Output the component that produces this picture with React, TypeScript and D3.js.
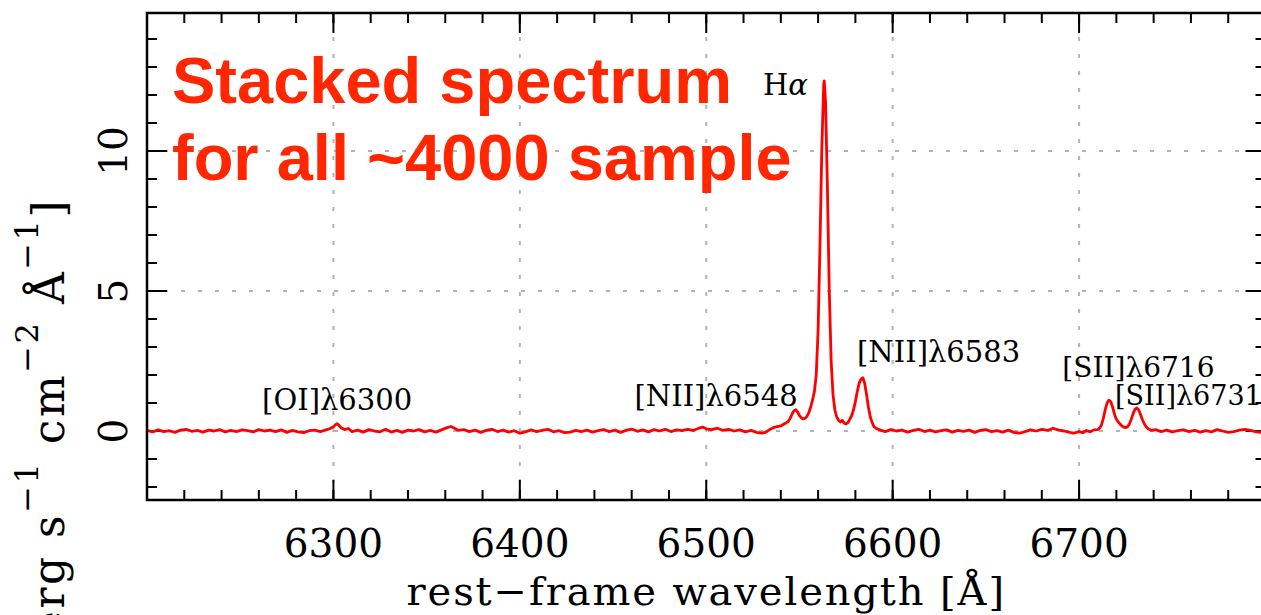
import React from "react";
import * as d3 from "d3";

// ---- data (rest-frame wavelength [Å], flux) ----
const spectrumBlue: [number, number][] = [
  [6200, 0.02], [6203, -0.03], [6206, 0.04], [6209, -0.02], [6212, 0.01], [6215, -0.05], [6218, 0.03],
  [6221, 0.06], [6224, -0.01], [6227, 0.02], [6230, -0.04], [6233, 0.03], [6236, 0.0], [6239, 0.05],
  [6242, -0.03], [6245, 0.02], [6248, -0.02], [6251, 0.04], [6254, 0.01], [6257, -0.03], [6260, 0.05],
  [6263, 0.0], [6266, 0.03], [6269, -0.02], [6272, 0.04], [6275, -0.05], [6278, 0.02], [6281, -0.03],
  [6284, -0.06], [6287, 0.01], [6290, 0.03], [6293, -0.02], [6296, 0.04], [6298, 0.08], [6300, 0.15],
  [6301, 0.22], [6302, 0.26], [6303, 0.2], [6304, 0.12], [6306, 0.05], [6308, 0.09], [6310, -0.02],
  [6313, 0.03], [6316, -0.04], [6319, 0.05], [6322, 0.0], [6325, -0.03], [6328, 0.06], [6331, -0.04],
  [6334, 0.02], [6337, -0.05], [6340, 0.03], [6343, 0.0], [6346, 0.05], [6349, -0.03], [6352, 0.02],
  [6355, -0.04], [6358, 0.04], [6361, 0.12], [6363, 0.16], [6365, 0.1], [6367, 0.02], [6370, 0.05],
  [6373, -0.02], [6376, 0.03], [6379, -0.05], [6382, 0.02], [6385, 0.06], [6388, -0.02], [6391, 0.03],
  [6394, -0.04], [6397, 0.01], [6400, -0.08], [6403, -0.03], [6406, 0.04], [6409, -0.02], [6412, 0.02],
  [6415, 0.06], [6418, -0.03], [6421, 0.01], [6424, -0.06], [6427, -0.04], [6430, 0.02], [6433, -0.02],
  [6436, 0.03], [6439, -0.04], [6442, 0.01], [6445, 0.05], [6448, -0.02], [6451, 0.03], [6454, -0.05],
  [6457, 0.02], [6460, 0.07], [6463, -0.01], [6466, 0.04], [6469, -0.03], [6472, 0.05], [6475, 0.0],
  [6478, 0.06], [6481, -0.02], [6484, 0.04], [6487, 0.01], [6490, 0.06], [6493, 0.02], [6496, 0.1],
  [6498, 0.14], [6500, 0.08], [6503, 0.05], [6506, 0.1], [6509, 0.02], [6512, 0.06], [6515, 0.0],
  [6518, 0.04], [6521, -0.03], [6524, 0.02], [6527, -0.05], [6530, -0.08], [6532, -0.04],
];

const spectrumHalpha: [number, number][] = [
  [6534, 0.05], [6536, 0.12], [6538, 0.16], [6540, 0.18], [6542, 0.26], [6543, 0.3], [6544, 0.34],
  [6545, 0.45], [6546, 0.6], [6547, 0.72], [6548, 0.76], [6549, 0.68], [6550, 0.55], [6551, 0.47],
  [6552, 0.43], [6553, 0.45], [6554, 0.52], [6555, 0.65], [6556, 0.85], [6557, 1.1], [6558, 1.4],
  [6559, 2.0], [6560, 3.6], [6561, 6.6], [6562, 10.1], [6563, 12.36], [6563.3, 12.5], [6564, 11.76],
  [6565, 8.7], [6566, 5.0], [6567, 2.5], [6568, 1.3], [6569, 0.75], [6570, 0.5], [6571, 0.38],
  [6572, 0.32], [6573, 0.38], [6574, 0.28], [6575, 0.25], [6576, 0.3], [6577, 0.42], [6578, 0.55],
  [6579, 0.75], [6580, 1.05], [6581, 1.4], [6582, 1.7], [6583, 1.85], [6584, 1.9], [6585, 1.7],
  [6586, 1.3], [6587, 0.85], [6588, 0.5], [6589, 0.3], [6590, 0.15], [6591, 0.1],
];

const spectrumRed: [number, number][] = [
  [6593, 0.04], [6596, -0.02], [6599, 0.05], [6602, 0.0], [6605, 0.03], [6608, -0.04], [6611, 0.02],
  [6614, 0.06], [6617, -0.02], [6620, 0.03], [6623, -0.03], [6626, 0.01], [6629, 0.04], [6632, -0.04],
  [6635, 0.02], [6638, -0.01], [6641, 0.03], [6644, -0.05], [6647, 0.02], [6650, 0.05], [6653, -0.02],
  [6656, 0.01], [6659, -0.04], [6662, 0.03], [6665, -0.05], [6668, -0.08], [6671, -0.02], [6674, 0.04],
  [6677, 0.0], [6680, 0.06], [6683, 0.02], [6686, 0.1], [6689, 0.03], [6692, 0.0], [6695, -0.05],
  [6697, -0.08], [6700, -0.02], [6702, -0.06], [6704, 0.02], [6706, -0.03], [6708, 0.04],
];

const spectrumSII: [number, number][] = [
  [6710, 0.05], [6711, 0.1], [6712, 0.22], [6713, 0.45], [6714, 0.75], [6715, 1.0], [6716, 1.1],
  [6717, 1.05], [6718, 0.85], [6719, 0.6], [6720, 0.42], [6721, 0.32], [6722, 0.25], [6723, 0.18],
  [6724, 0.14], [6725, 0.12], [6726, 0.15], [6727, 0.25], [6728, 0.42], [6729, 0.62], [6730, 0.78],
  [6731, 0.82], [6732, 0.75], [6733, 0.58], [6734, 0.4], [6735, 0.25], [6736, 0.15], [6737, 0.08],
  [6739, 0.02], [6741, 0.05], [6744, -0.02], [6747, 0.03], [6750, -0.03], [6753, 0.01], [6756, 0.04],
  [6759, -0.02], [6762, 0.02], [6765, -0.04], [6768, 0.01], [6771, -0.03], [6774, 0.05], [6777, 0.0],
  [6780, -0.05], [6783, -0.02], [6786, 0.03], [6789, 0.06], [6792, 0.02], [6795, -0.03], [6798, -0.05],
  [6800, -0.02],
];

const xTickLabels = [6300, 6400, 6500, 6600, 6700];
const yTickLabels = [0, 5, 10];

const lineLabels = [
  { text: "[OI]λ6300", wl: 6302, flux: 0.75, anchor: "middle", size: 29 },
  { text: "[NII]λ6548", wl: 6549, flux: 0.9, anchor: "end", size: 29 },
  { text: "[NII]λ6583", wl: 6580.9, flux: 2.47, anchor: "start", size: 29 },
  { text: "[SII]λ6716", wl: 6691, flux: 1.93, anchor: "start", size: 28 },
  { text: "[SII]λ6731", wl: 6719.3, flux: 0.93, anchor: "start", size: 27 },
];

const W = 1261;
const H = 615;
const left = 147;
const right = 1265.5;
const zeroY = 431;
const pxPerUnit = 28;
const top = 13;
const bottom = 500;

export default function App() {
  const x = d3.scaleLinear().domain([6200, 6800]).range([left, right]);
  const y = d3
    .scaleLinear()
    .domain([(zeroY - bottom) / pxPerUnit, (zeroY - top) / pxPerUnit])
    .range([bottom, top]);

  const data = [...spectrumBlue, ...spectrumHalpha, ...spectrumRed, ...spectrumSII];
  const line = d3
    .line<[number, number]>()
    .x((d) => x(d[0]))
    .y((d) => y(d[1]));

  const xMinor = d3.range(6200, 6801, 20);
  const xMajor = d3.range(6200, 6801, 100);
  const yMinor = d3.range(-2, 15, 1);
  const yMajor = d3.range(0, 15, 5);

  const serif = "'DejaVu Serif', serif";
  const grid = "#b3b3b3";

  return (
    <svg
      width={W}
      height={H}
      style={{ position: "absolute", left: 0, top: 0, background: "#fff" }}
      xmlns="http://www.w3.org/2000/svg"
    >
      <rect x={0} y={0} width={W} height={H} fill="#fff" />
      {/* grid */}
      <g stroke={grid} strokeWidth={2} strokeDasharray="4 13">
        {xTickLabels.map((t) => (
          <line key={"gx" + t} x1={x(t)} x2={x(t)} y1={bottom} y2={top} />
        ))}
        {yTickLabels.map((t) => (
          <line key={"gy" + t} x1={left} x2={right} y1={y(t)} y2={y(t)} />
        ))}
      </g>

      {/* ticks */}
      <g stroke="#000" strokeWidth={2}>
        {xMinor.map((t) => (
          <g key={"xm" + t}>
            <line x1={x(t)} x2={x(t)} y1={bottom} y2={bottom - 10} />
            <line x1={x(t)} x2={x(t)} y1={top} y2={top + 10} />
          </g>
        ))}
        {xMajor.map((t) => (
          <g key={"xM" + t}>
            <line x1={x(t)} x2={x(t)} y1={bottom} y2={bottom - 20} />
            <line x1={x(t)} x2={x(t)} y1={top} y2={top + 20} />
          </g>
        ))}
        {yMinor.map((t) => (
          <g key={"ym" + t}>
            <line x1={left} x2={left + 10} y1={y(t)} y2={y(t)} />
            <line x1={right} x2={right - 10} y1={y(t)} y2={y(t)} />
          </g>
        ))}
        {yMajor.map((t) => (
          <g key={"yM" + t}>
            <line x1={left} x2={left + 20} y1={y(t)} y2={y(t)} />
            <line x1={right} x2={right - 20} y1={y(t)} y2={y(t)} />
          </g>
        ))}
      </g>

      {/* spectrum */}
      <path d={line(data) || ""} fill="none" stroke="#ff0000" strokeWidth={2.8} strokeLinejoin="round" />

      {/* frame */}
      <rect x={left} y={top} width={right - left} height={bottom - top} fill="none" stroke="#000" strokeWidth={2.5} />

      {/* x tick labels */}
      <g fontFamily={serif} fontSize={39} fill="#000" textAnchor="middle">
        {xTickLabels.map((t) => (
          <text key={"xl" + t} x={x(t)} y={557}>
            {t}
          </text>
        ))}
      </g>
      {/* y tick labels (rotated) */}
      <g fontFamily={serif} fontSize={39} fill="#000" textAnchor="middle">
        {yTickLabels.map((t) => (
          <text key={"yl" + t} transform={`translate(127,${y(t)}) rotate(-90)`}>
            {t}
          </text>
        ))}
      </g>

      {/* axis titles */}
      <text
        x={(left + right) / 2}
        y={605}
        fontFamily={serif}
        fontSize={40}
        letterSpacing={1.9}
        textAnchor="middle"
        fill="#000"
      >
        rest−frame wavelength [Å]
      </text>
      <text
        transform={`translate(64,198) rotate(-90)`}
        fontFamily={serif}
        fontSize={44}
        textAnchor="end"
        fill="#000"
        letterSpacing={2.5}
      >
        <tspan>erg s</tspan>
        <tspan fontSize={32} dy={-26}>−1</tspan>
        <tspan dy={26}> cm</tspan>
        <tspan fontSize={32} dy={-26}>−2</tspan>
        <tspan dy={26}> Å</tspan>
        <tspan fontSize={32} dy={-26}>−1</tspan>
        <tspan dy={26}>]</tspan>
      </text>

      {/* line labels */}
      <g fontFamily={serif} fill="#000">
        {lineLabels.map((l) => (
          <text key={l.text} x={x(l.wl)} y={y(l.flux)} fontSize={l.size} textAnchor={l.anchor as any}>
            {l.text}
          </text>
        ))}
        <text x={763} y={95} fontSize={29}>
          H<tspan fontStyle="italic">α</tspan>
        </text>
      </g>

      {/* overlay title */}
      <g fontFamily="'Liberation Sans', Arial, sans-serif" fontWeight="bold" fontSize={65} fill="#ff2600">
        <text x={172} y={103}>Stacked spectrum</text>
        <text x={172} y={180}>for all ~4000 sample</text>
      </g>
    </svg>
  );
}
